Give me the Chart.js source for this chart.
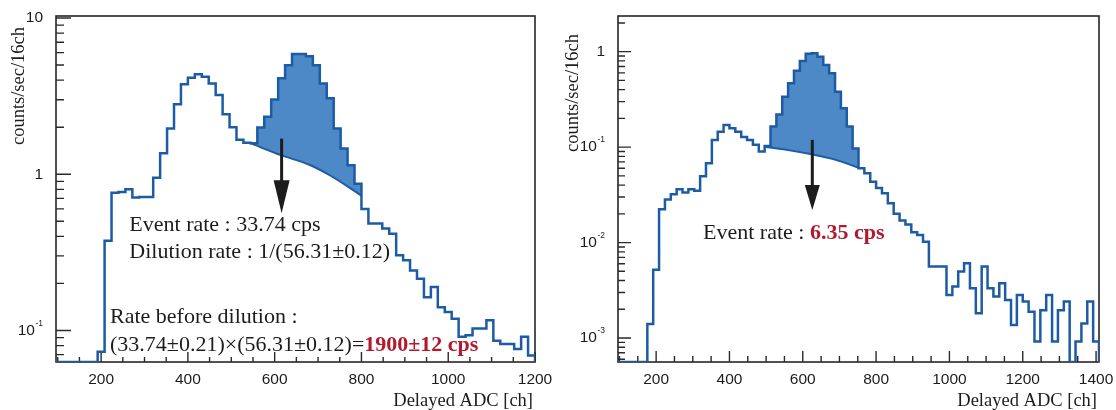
<!DOCTYPE html>
<html>
<head>
<meta charset="utf-8">
<script src="https://cdn.jsdelivr.net/npm/chart.js@4.4.1/dist/chart.umd.min.js"></script>
<style>
  html, body { margin: 0; padding: 0; background: #ffffff; }
  #wrap { position: relative; width: 1116px; height: 410px; overflow: hidden; background: #ffffff; }
  canvas { position: absolute; top: 0; }
  #left { left: 0; }
  #right { left: 560px; }
</style>
</head>
<body>
<div id="wrap">
  <canvas id="left" width="560" height="410"></canvas>
  <canvas id="right" width="556" height="410"></canvas>
</div>
<script>
// ---- spectrum data (counts/sec per 16 ch bin) ----
const BIN = 16;

// Left spectrum: first bin starts at 192 ch
const leftStart = 192;
const leftRate = [
  0.073, 0.375, 0.76, 0.77, 0.80, 0.71, 0.715, 0.715, 0.95, 1.36,
  1.96, 2.81, 3.76, 4.14, 4.37, 4.20, 3.81, 3.21, 2.42, 2.00,
  1.66, 1.59, 1.58, 1.99, 2.33, 3.01, 4.11, 4.99, 5.88, 5.88,
  5.70, 4.99, 3.81, 3.06, 1.96, 1.46, 1.14, 0.87, 0.60, 0.483,
  0.483, 0.449, 0.416, 0.303, 0.281, 0.242, 0.214, 0.163, 0.190, 0.141,
  0.131, 0.119, 0.091, 0.093, 0.103, 0.103, 0.116, 0.086, 0.082, 0.082,
  0.076, 0.091, 0.069
];
const leftPeakWindow = [544, 800];
const leftBgCh = [544, 616, 680, 727, 800];
const leftBgRate = [1.58, 1.32, 1.15, 0.985, 0.73];
const leftXRange = [96, 1200];
const leftYRange = [0.0628, 10.3];
const leftXTicks = [200, 400, 600, 800, 1000, 1200];
const leftYTicks = [0.1, 1, 10];
const leftYTickText = [['10', '-1'], ['1', ''], ['10', '']];

// Right spectrum: first bin starts at 176 ch
const rightStart = 176;
const rightRate = [
  0.0014, 0.0052, 0.0224, 0.0283, 0.0321, 0.0362, 0.0334, 0.0362, 0.0350, 0.0495,
  0.0677, 0.119, 0.145, 0.171, 0.158, 0.145, 0.128, 0.119, 0.106, 0.090,
  0.103, 0.164, 0.22, 0.338, 0.466, 0.632, 0.80, 0.95, 0.962, 0.886,
  0.726, 0.594, 0.381, 0.255, 0.164, 0.097, 0.060, 0.0533, 0.0435, 0.0372,
  0.0329, 0.0259, 0.020, 0.017, 0.0155, 0.0128, 0.0120, 0.0102, 0.00561, 0.00561,
  0.00561, 0.00283, 0.00346, 0.00497, 0.00608, 0.00333, 0.00182, 0.00561, 0.00333, 0.00273,
  0.00376, 0.00250, 0.00137, 0.00283, 0.00242, 0.00189, 0.00092, 0.00196, 0.00283, 0.00092,
  0.00196, 0.00242, 0, 0.00092, 0.00142, 0.00242, 0.00092
];
const rightPeakWindow = [496, 752];
const rightBgCh = [496, 560, 624, 688, 752];
const rightBgRate = [0.101, 0.093, 0.084, 0.074, 0.061];
const rightXRange = [96, 1408];
const rightYRange = [0.000561, 2.364];
const rightXTicks = [200, 400, 600, 800, 1000, 1200, 1400];
const rightYTicks = [0.001, 0.01, 0.1, 1];
const rightYTickText = [['10', '-3'], ['10', '-2'], ['10', '-1'], ['1', '']];

// ---- styling ----
const LINE_BLUE = '#1d5ba4';
const FILL_BLUE = '#4d88c7';
const INK = '#1c1c1c';
const RED = '#b3192c';
const SERIF = '"Liberation Serif", "DejaVu Serif", serif';
const SANS = '"Liberation Sans", Arial, sans-serif';

// step points: each bin value holds from its left edge to the next edge;
// empty bins sit on the bottom of the log axis
function histPoints(start, rates, xMin, xMax, yMin) {
  const lift = r => (r > 0 ? r : yMin);
  const pts = [{ x: xMin, y: yMin }];
  rates.forEach((r, i) => pts.push({ x: start + i * BIN, y: lift(r) }));
  const end = start + rates.length * BIN;
  pts.push({ x: end, y: lift(rates[rates.length - 1]) });
  if (end >= xMax) pts.push({ x: end, y: yMin });
  return pts;
}
function windowPoints(start, rates, win) {
  const pts = [];
  rates.forEach((r, i) => {
    const lo = start + i * BIN;
    if (lo >= win[0] && lo < win[1]) pts.push({ x: lo, y: r });
  });
  pts.push({ x: win[1], y: pts[pts.length - 1].y });
  return pts;
}
function curvePoints(xs, ys) { return xs.map((x, i) => ({ x, y: ys[i] })); }

function drawRich(ctx, x, y, parts, size) {
  let cx = x;
  parts.forEach(p => {
    ctx.font = (p.bold ? 'bold ' : '') + size + 'px ' + SERIF;
    ctx.fillStyle = p.color || INK;
    ctx.fillText(p.text, cx, y);
    cx += ctx.measureText(p.text).width;
  });
}

function drawArrow(ctx, x, yTop, yHeadStart, yTip, halfW) {
  ctx.save();
  ctx.strokeStyle = INK;
  ctx.fillStyle = INK;
  ctx.lineWidth = 3;
  ctx.beginPath();
  ctx.moveTo(x, yTop);
  ctx.lineTo(x, yHeadStart + 2);
  ctx.stroke();
  ctx.beginPath();
  ctx.moveTo(x - halfW, yHeadStart);
  ctx.lineTo(x + halfW, yHeadStart);
  ctx.lineTo(x, yTip);
  ctx.closePath();
  ctx.fill();
  ctx.restore();
}

function decorPlugin(spec) {
  return {
    id: 'decor_' + spec.id,
    beforeDatasetsDraw(chart) {
      const { ctx, chartArea: a } = chart;
      const x = chart.scales.x, y = chart.scales.y;
      ctx.save();
      // inside ticks on the bottom axis
      ctx.strokeStyle = '#2a2a2a';
      ctx.lineWidth = 1.4;
      ctx.beginPath();
      for (let v = Math.ceil(x.min / 50) * 50; v <= x.max; v += 50) {
        const px = x.getPixelForValue(v);
        const len = v % 200 === 0 ? spec.xMajorLen : spec.xMinorLen;
        ctx.moveTo(px, a.bottom);
        ctx.lineTo(px, a.bottom - len);
      }
      // inside log ticks on the left axis
      const d0 = Math.floor(Math.log10(y.min)), d1 = Math.ceil(Math.log10(y.max));
      for (let d = d0; d <= d1; d++) {
        for (let m = 1; m <= 9; m++) {
          const v = m * Math.pow(10, d);
          if (v < y.min || v > y.max) continue;
          const py = y.getPixelForValue(v);
          const len = m === 1 ? spec.yMajorLen : spec.yMinorLen;
          ctx.moveTo(a.left, py);
          ctx.lineTo(a.left + len, py);
        }
      }
      ctx.stroke();
      // frame
      ctx.lineWidth = 1.6;
      ctx.strokeStyle = '#262626';
      ctx.strokeRect(a.left, a.top, a.right - a.left, a.bottom - a.top);

      // tick labels
      ctx.fillStyle = INK;
      ctx.font = '15.5px ' + SANS;
      ctx.textAlign = 'center';
      ctx.textBaseline = 'middle';
      spec.xTicks.forEach(v => ctx.fillText(String(v), x.getPixelForValue(v), a.bottom + 18));
      spec.yTicks.forEach((v, i) => {
        const [base, sup] = spec.yTickText[i];
        const py = y.getPixelForValue(v);
        const right = a.left - spec.yLabelGap;
        ctx.font = '8.5px ' + SANS;
        const sw = sup ? ctx.measureText(sup).width + 0.5 : 0;
        ctx.textAlign = 'right';
        if (sup) ctx.fillText(sup, right, py - 7);
        ctx.font = '15.5px ' + SANS;
        ctx.fillText(base, right - sw, py);
      });

      // axis titles
      ctx.font = '18.5px ' + SERIF;
      ctx.textAlign = 'right';
      ctx.textBaseline = 'alphabetic';
      ctx.fillText('Delayed ADC [ch]', a.right - 2, a.bottom + 44);
      ctx.save();
      ctx.translate(spec.yTitleX, spec.yTitleY);
      ctx.rotate(-Math.PI / 2);
      ctx.textAlign = 'center';
      ctx.textBaseline = 'middle';
      ctx.fillText('counts/sec/16ch', 0, 0);
      ctx.restore();
      ctx.restore();
    },
    afterDatasetsDraw(chart) {
      const { ctx } = chart;
      const x = chart.scales.x, y = chart.scales.y;
      ctx.save();
      const ar = spec.arrow;
      drawArrow(ctx, x.getPixelForValue(ar.ch), y.getPixelForValue(ar.top),
        y.getPixelForValue(ar.head), y.getPixelForValue(ar.tip), ar.halfW);
      ctx.textAlign = 'left';
      ctx.textBaseline = 'middle';
      spec.notes.forEach(n => drawRich(ctx, x.getPixelForValue(n.ch), y.getPixelForValue(n.at), n.parts, 22));
      ctx.restore();
    }
  };
}

function buildPanel(canvasId, spec) {
  const hist = histPoints(spec.start, spec.rate, spec.xRange[0], spec.xRange[1], spec.yRange[0]);
  const peak = windowPoints(spec.start, spec.rate, spec.window);
  const bg = curvePoints(spec.bgCh, spec.bgRate);
  return new Chart(document.getElementById(canvasId), {
    type: 'line',
    data: {
      datasets: [
        { data: peak, stepped: true, borderWidth: 0, pointRadius: 0,
          backgroundColor: FILL_BLUE, fill: '+1', order: 3 },
        { data: bg, borderColor: LINE_BLUE, borderWidth: 2, pointRadius: 0,
          cubicInterpolationMode: 'monotone', fill: false, order: 2 },
        { data: hist, stepped: true, borderColor: LINE_BLUE, borderWidth: 2.5, pointRadius: 0,
          fill: false, order: 1, borderJoinStyle: 'miter' }
      ]
    },
    options: {
      responsive: false,
      animation: false,
      events: [],
      layout: { padding: spec.padding },
      scales: {
        x: { type: 'linear', min: spec.xRange[0], max: spec.xRange[1], display: false },
        y: { type: 'logarithmic', min: spec.yRange[0], max: spec.yRange[1], display: false }
      },
      plugins: { legend: { display: false }, tooltip: { enabled: false } }
    },
    plugins: [decorPlugin(spec)]
  });
}

buildPanel('left', {
  id: 'l',
  start: leftStart, rate: leftRate, window: leftPeakWindow,
  bgCh: leftBgCh, bgRate: leftBgRate,
  xRange: leftXRange, yRange: leftYRange,
  xTicks: leftXTicks, yTicks: leftYTicks, yTickText: leftYTickText,
  padding: { left: 56, top: 16, right: 25, bottom: 48 },
  xMajorLen: 10, xMinorLen: 5, yMajorLen: 15, yMinorLen: 8, yLabelGap: 13,
  yTitleX: 19, yTitleY: 86,
  arrow: { ch: 616, top: 1.69, head: 0.915, tip: 0.562, halfW: 8 },
  notes: [
    { ch: 265, at: 0.471, parts: [{ text: 'Event rate : 33.74 cps' }] },
    { ch: 265, at: 0.318, parts: [{ text: 'Dilution rate : 1/(56.31±0.12)' }] },
    { ch: 220.5, at: 0.1217, parts: [{ text: 'Rate before dilution :' }] },
    { ch: 220.5, at: 0.0801, parts: [{ text: '(33.74±0.21)×(56.31±0.12)=' },
                                      { text: '1900±12 cps', bold: true, color: RED }] }
  ]
});

buildPanel('right', {
  id: 'r',
  start: rightStart, rate: rightRate, window: rightPeakWindow,
  bgCh: rightBgCh, bgRate: rightBgRate,
  xRange: rightXRange, yRange: rightYRange,
  xTicks: rightXTicks, yTicks: rightYTicks, yTickText: rightYTickText,
  padding: { left: 58, top: 16, right: 17, bottom: 48 },
  xMajorLen: 11, xMinorLen: 6, yMajorLen: 13, yMinorLen: 7, yLabelGap: 13,
  yTitleX: 13, yTitleY: 93,
  arrow: { ch: 626, top: 0.119, head: 0.040, tip: 0.022, halfW: 7.5 },
  notes: [
    { ch: 328, at: 0.01254, parts: [{ text: 'Event rate : ' },
                                    { text: '6.35 cps', bold: true, color: RED }] }
  ]
});
</script>
</body>
</html>
